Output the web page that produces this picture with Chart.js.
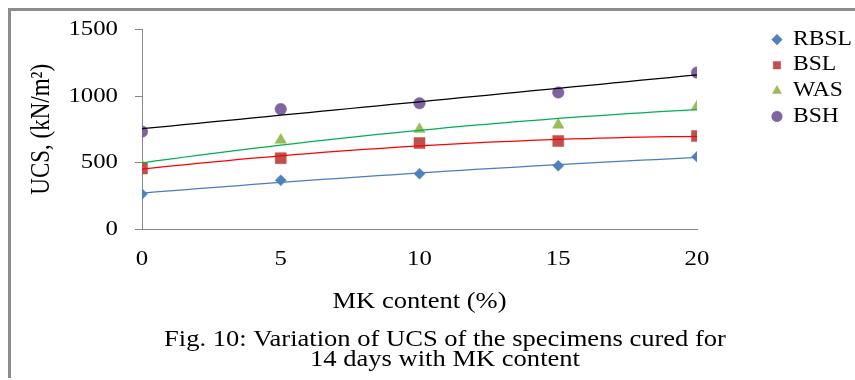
<!DOCTYPE html>
<html>
<head>
<meta charset="utf-8">
<script src="https://cdn.jsdelivr.net/npm/chart.js@4.4.1/dist/chart.umd.min.js"></script>
<style>
  html, body { margin: 0; padding: 0; background: #fff; }
  canvas { display: block; }
</style>
</head>
<body>
<canvas id="chart" width="855" height="380"></canvas>
<script>
// MK content (%) on the x axis
const mkContent = [0, 5, 10, 15, 20];

// UCS (kN/m²) after 14 days of curing
const rbsl = [263, 366, 416, 476, 543];
const bsl  = [455, 533, 647, 662, 699];
const was  = [477, 669, 750, 783, 921];
const bsh  = [733, 902, 946, 1027, 1177];

const seriesNames = ['RBSL', 'BSL', 'WAS', 'BSH'];
const xTickValues = [0, 5, 10, 15, 20];
const yTickValues = [0, 500, 1000, 1500];

const xTitle = 'MK content (%)';
const yTitle = 'UCS, (kN/m\u00B2)';
const caption = ['Fig. 10: Variation of UCS of the specimens cured for', '14 days with MK content'];

const SERIF = "'Liberation Serif', 'Times New Roman', serif";

// Wide serif lettering: expand every glyph run horizontally about its anchor.
function expandText(ctx, k) {
  const fill = ctx.fillText.bind(ctx);
  const measure = ctx.measureText.bind(ctx);
  ctx.fillText = function (text, x, y, maxWidth) {
    const m = ctx.getTransform();
    const px = m.a * x + m.c * y + m.e;
    ctx.save();
    ctx.setTransform(new DOMMatrix([k, 0, 0, 1, (1 - k) * px, 0]).multiply(m));
    if (maxWidth === undefined) fill(text, x, y); else fill(text, x, y, maxWidth);
    ctx.restore();
  };
  ctx.measureText = function (text) {
    const r = measure(text);
    return {
      width: r.width * k,
      actualBoundingBoxAscent: r.actualBoundingBoxAscent,
      actualBoundingBoxDescent: r.actualBoundingBoxDescent,
      actualBoundingBoxLeft: r.actualBoundingBoxLeft * k,
      actualBoundingBoxRight: r.actualBoundingBoxRight * k
    };
  };
}

// Second-order least-squares trend curve y = c0 + c1·x + c2·x²
function polyTrend(xs, ys) {
  const s = p => xs.reduce((a, x) => a + Math.pow(x, p), 0);
  const t = p => xs.reduce((a, x, i) => a + Math.pow(x, p) * ys[i], 0);
  const A = [[s(0), s(1), s(2)], [s(1), s(2), s(3)], [s(2), s(3), s(4)]];
  const b = [t(0), t(1), t(2)];
  // Gaussian elimination on the 3×3 normal equations
  for (let i = 0; i < 3; i++) {
    for (let r = i + 1; r < 3; r++) {
      const f = A[r][i] / A[i][i];
      for (let c = i; c < 3; c++) A[r][c] -= f * A[i][c];
      b[r] -= f * b[i];
    }
  }
  const c = [0, 0, 0];
  for (let i = 2; i >= 0; i--) {
    let v = b[i];
    for (let j = i + 1; j < 3; j++) v -= A[i][j] * c[j];
    c[i] = v / A[i][i];
  }
  const pts = [];
  const x0 = xs[0], x1 = xs[xs.length - 1];
  for (let x = x0; x <= x1 + 1e-9; x += 0.5) pts.push({ x, y: c[0] + c[1] * x + c[2] * x * x });
  return pts;
}

const toPoints = ys => mkContent.map((x, i) => ({ x, y: ys[i] }));

const series = [
  { values: rbsl, marker: 'rectRot',  radius: 5.5, fill: '#4f81bd', trend: '#4a7ebb' },
  { values: bsl,  marker: 'rect',     radius: 7.8, fill: '#c0504d', trend: '#ff0000' },
  { values: was,  marker: 'triangle', radius: 6.6, fill: '#9bbb59', trend: '#00b050' },
  { values: bsh,  marker: 'circle',   radius: 5.8, fill: '#8064a2', trend: '#000000' }
];

const markerSets = series.map((s, i) => ({
  label: seriesNames[i],
  data: toPoints(s.values),
  showLine: false,
  pointStyle: s.marker,
  pointRadius: s.radius,
  pointBackgroundColor: s.fill,
  pointBorderColor: s.fill,
  pointBorderWidth: 0.5,
  backgroundColor: s.fill,
  borderColor: s.fill,
  order: 1
}));

const trendSets = series.map((s, i) => ({
  label: seriesNames[i] + ' trend',
  isTrend: true,
  data: polyTrend(mkContent, s.values),
  showLine: true,
  tension: 0,
  pointRadius: 0,
  borderColor: s.trend,
  borderWidth: 1.25,
  order: 0
}));

// Thin grey frame around the figure
const framePlugin = {
  id: 'frame',
  beforeDraw(chart) {
    const c = chart.ctx;
    c.save();
    c.strokeStyle = '#8c8c8c';
    c.lineWidth = 3;
    c.beginPath();
    c.moveTo(9.5, 378);
    c.lineTo(9.5, 9.5);
    c.lineTo(chart.width, 9.5);
    c.stroke();
    c.restore();
  }
};

const canvas = document.getElementById('chart');
const ctx = canvas.getContext('2d');
expandText(ctx, 1.18);

Chart.defaults.color = '#000';
Chart.defaults.font.family = SERIF;

const PLOT_LEFT = 142, PLOT_RIGHT = 697, PLOT_BOTTOM = 229;
const LAYOUT = { top: 24, left: 28, right: -7, bottom: 0 };

new Chart(ctx, {
  type: 'scatter',
  data: { datasets: [...markerSets, ...trendSets] },
  plugins: [framePlugin],
  options: {
    responsive: false,
    animation: false,
    devicePixelRatio: 1,
    events: [],
    layout: { padding: LAYOUT },
    scales: {
      x: {
        type: 'linear',
        position: 'bottom',
        min: 0,
        max: 20,
        afterBuildTicks: s => { s.ticks = xTickValues.map(v => ({ value: v })); },
        afterFit: s => { s.height = 330 - PLOT_BOTTOM; },
        grid: { display: false, drawTicks: false },
        border: { display: true, color: '#868686', width: 1 },
        ticks: { padding: 18, font: { size: 21, lineHeight: 1.2 }, color: '#000', callback: v => String(v) },
        title: {
          display: true,
          text: xTitle,
          font: { size: 22.5, lineHeight: 1.2 },
          padding: { top: 0, bottom: 14 },
          color: '#000'
        }
      },
      y: {
        type: 'linear',
        position: 'left',
        min: 0,
        max: 1500,
        afterBuildTicks: s => { s.ticks = yTickValues.map(v => ({ value: v })); },
        afterFit: s => { s.width = PLOT_LEFT - LAYOUT.left; },
        grid: { display: true, drawOnChartArea: false, drawTicks: true, tickLength: 7, color: '#868686' },
        border: { display: true, color: '#868686', width: 1 },
        ticks: { padding: 17, font: { size: 21, lineHeight: 1.2 }, color: '#000', callback: v => String(v) },
        title: {
          display: true,
          text: yTitle,
          font: { size: 23, lineHeight: 1.2 },
          padding: { top: 0, bottom: 0 },
          color: '#000'
        }
      },
      gap: {
        type: 'linear',
        position: 'right',
        display: true,
        afterFit: s => { s.width = Math.max(0, s.chart.width - LAYOUT.right - s.chart.legend.width - PLOT_RIGHT); },
        grid: { display: false, drawTicks: false },
        border: { display: false },
        ticks: { display: false }
      }
    },
    plugins: {
      tooltip: { enabled: false },
      legend: {
        display: true,
        position: 'right',
        align: 'start',
        labels: {
          usePointStyle: true,
          boxWidth: 12,
          boxHeight: 7.5,
          padding: 5.6,
          color: '#000',
          font: { size: 20 },
          filter: (item, data) => !data.datasets[item.datasetIndex].isTrend
        }
      },
      title: {
        display: true,
        position: 'bottom',
        text: caption,
        font: { size: 22.5, weight: 'normal', lineHeight: '20px' },
        padding: { top: 0, bottom: 10 },
        color: '#000'
      }
    }
  }
});
</script>
</body>
</html>
